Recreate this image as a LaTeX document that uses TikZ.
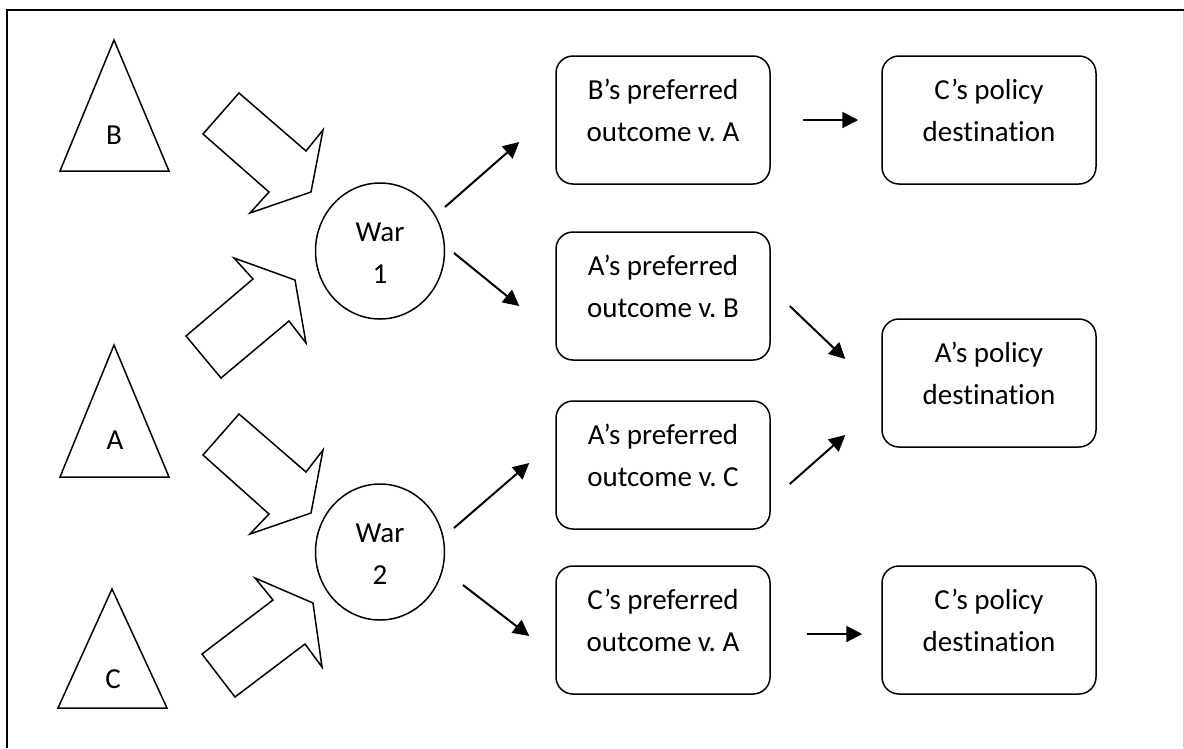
\documentclass[tikz,border=0pt]{standalone}
\usepackage{fontspec}
\setmainfont{Carlito}[Ligatures=NoCommon]
\usetikzlibrary{arrows.meta,shapes.geometric,calc}
\frenchspacing

% invisible struts that keep the two text lines centred on their baselines
\newcommand\toprow{\rule{0pt}{25pt}}
\newcommand\botrow{\rule[-25pt]{0pt}{25pt}}

\begin{document}
\begin{tikzpicture}[x=1pt,y=-1pt,
  every node/.style={font=\fontsize{29}{42}\selectfont, inner sep=0pt},
  actor/.style={draw, line width=1.5pt, line join=miter},
  push/.style={draw, line width=1.5pt, line join=miter, fill=white},
  war/.style={draw, ellipse, line width=1.5pt, minimum width=129pt, minimum height=136pt},
  twoline/.style={align=center},
  outcome/.style={draw, line width=1.5pt, rounded corners=17pt,
    minimum width=214pt, minimum height=128pt, align=center},
  conn/.style={line width=2pt, -{Triangle[length=16pt,width=16pt]}}
]
\useasboundingbox (0,0) rectangle (1184,748);

% page frame
\draw[line width=2.4pt] (1184,10) -- (7,10) -- (7,748);
\draw[black!18, line width=1pt] (1183.5,11) -- (1183.5,748);

% the three actors
\draw[actor] (114,40) -- (60,171) -- (169,171) -- cycle;
\draw[actor] (114,345) -- (60,477) -- (169,477) -- cycle;
\draw[actor] (112,589) -- (58,708) -- (167,708) -- cycle;
\node[anchor=base] (lb) at (114,144) {B};
\node[anchor=base] (la) at (115,449) {A};
\node[anchor=base] (lc) at (113,688) {C};

% block arrows pushing into the wars
\draw[push] (203,134) -- (239,93) -- (306,151) -- (323,130) -- (311,192) -- (250,213) -- (269,192) -- cycle;
\draw[push] (186,336) -- (253,279) -- (234,258) -- (295,280) -- (306,343) -- (289,321) -- (221,378) -- cycle;
\draw[push] (203,455) -- (239,414) -- (306,472) -- (323,450) -- (311,513) -- (250,534) -- (269,514) -- cycle;
\draw[push] (202,654) -- (273,600) -- (255,578) -- (313,603) -- (322,667) -- (305,644) -- (235,697) -- cycle;

% wars
\node[war] (w1) at (380,251) {};
\node[war] (w2) at (380,552) {};
\node[twoline] (w1t) at (380,262) {\toprow War\\1\botrow};
\node[twoline] (w2t) at (380,563) {\toprow War\\2\botrow};

% preferred outcomes
\node[outcome] (b1) at (663,120) {\toprow B’s preferred\\outcome v. A\botrow};
\node[outcome] (b2) at (663,296) {\toprow A’s preferred\\outcome v. B\botrow};
\node[outcome] (b3) at (663,465) {\toprow A’s preferred\\outcome v. C\botrow};
\node[outcome] (b4) at (663,630) {\toprow C’s preferred\\outcome v. A\botrow};

% policy destinations
\node[outcome] (d1) at (989,120) {\toprow C’s policy\\destination\botrow};
\node[outcome] (da) at (989,383) {\toprow A’s policy\\destination\botrow};
\node[outcome] (d3) at (989,630) {\toprow C’s policy\\destination\botrow};

% connectors
\draw[conn] ($(w1.center)+(65,-44)$) -- ($(b1.west)+(-36,22)$);
\draw[conn] ($(w1.center)+(74,2)$) -- ($(b2.west)+(-36,10)$);
\draw[conn] ($(w2.center)+(74,-24)$) -- ($(b3.west)+(-26,-2)$);
\draw[conn] ($(w2.center)+(83,33)$) -- ($(b4.west)+(-26,6)$);
\draw[conn] ($(b1.east)+(32,0)$) -- ($(d1.west)+(-23,0)$);
\draw[conn] ($(b2.east)+(19,10)$) -- ($(da.west)+(-36,-24)$);
\draw[conn] ($(b3.east)+(19,19)$) -- ($(da.west)+(-36,52)$);
\draw[conn] ($(b4.east)+(36,4)$) -- ($(d3.west)+(-19,4)$);
\end{tikzpicture}
\end{document}
